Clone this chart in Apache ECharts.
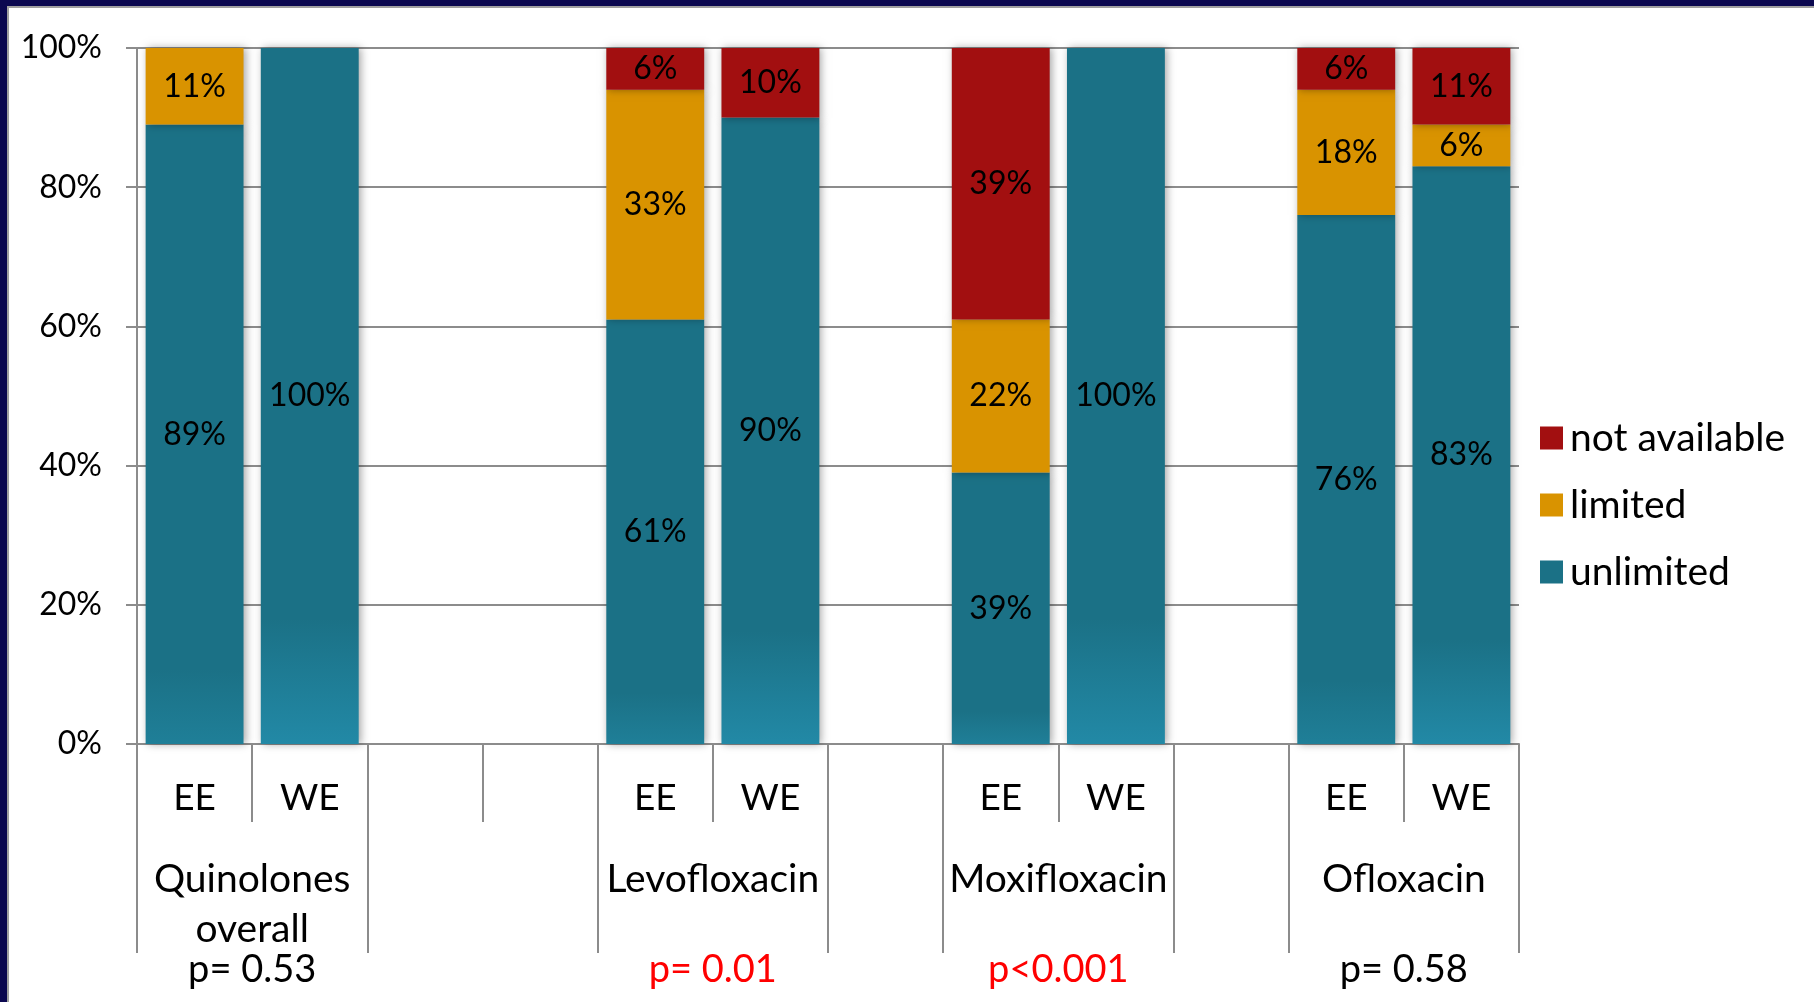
<!DOCTYPE html>
<html>
<head>
<meta charset="utf-8">
<title>Quinolone availability, EE vs WE</title>
<script src="https://cdn.jsdelivr.net/npm/echarts@6/dist/echarts.min.js"></script>
<style>
  html, body { margin: 0; padding: 0; background: #ffffff; }
  #chart { width: 1814px; height: 1002px; }
</style>
</head>
<body>
<div id="chart"></div>
<script>
// Regions per bar slot (blank slots separate the drug groups)
const regions = ['EE', 'WE', '', '', 'EE', 'WE', '', 'EE', 'WE', '', 'EE', 'WE'];

// Availability shares in percent, per slot
const unlimited    = [89, 100, null, null, 61, 90, null, 39, 100, null, 76, 83];
const limited      = [11,   0, null, null, 33,  0, null, 22,   0, null, 18,  6];
const notAvailable = [ 0,   0, null, null,  6, 10, null, 39,   0, null,  6, 11];

// Drug groups on the second axis level (positions in slot units)
const groupNames   = ['Quinolones\noverall', 'Levofloxacin', 'Moxifloxacin', 'Ofloxacin'];
const groupCenters = [1, 5, 8, 11];
const groupBounds  = [0, 2, 4, 6, 7, 9, 10, 12];

// p-values shown under each drug group
const pValues      = ['p= 0.53', 'p= 0.01', 'p<0.001', 'p= 0.58'];
const pSignificant = [false, true, true, false];

const yTicks = [0, 20, 40, 60, 80, 100];

const FONT = 'Lato, "Open Sans", sans-serif';
const GREY = '#8c8c8c';
const TEAL = '#1b7186';
const ORANGE = '#d99300';
const RED = '#a20f10';

const shadow = { shadowBlur: 8, shadowOffsetX: 2, shadowColor: 'rgba(0,0,0,0.35)' };

function tealFill(region) {
  const end = region === 'WE' ? '#2289a6' : '#1f7f98';
  return {
    type: 'linear', x: 0, y: 0, x2: 0, y2: 1,
    colorStops: [
      { offset: 0, color: TEAL },
      { offset: region === 'WE' ? 0.82 : 0.88, color: TEAL },
      { offset: 1, color: end }
    ]
  };
}

const pctLabel = {
  show: true,
  position: 'inside',
  color: '#000000',
  fontFamily: FONT,
  fontSize: 32,
  formatter: p => (p.value > 0 ? p.value + '%' : '')
};

const chart = echarts.init(document.getElementById('chart'), null, { renderer: 'canvas' });

chart.setOption({
  backgroundColor: '#ffffff',
  animation: false,
  graphic: [
    { type: 'rect', shape: { x: 0, y: 0, width: 1814, height: 6 }, style: { fill: '#0b0850' }, silent: true },
    { type: 'rect', shape: { x: 7, y: 6, width: 1807, height: 2 }, style: { fill: '#a0a0a0' }, silent: true },
    { type: 'rect', shape: { x: 0, y: 0, width: 7, height: 1002 }, style: { fill: '#0b0850' }, silent: true },
    { type: 'rect', shape: { x: 7, y: 6, width: 2, height: 996 }, style: { fill: '#a0a0a0' }, silent: true }
  ],
  legend: {
    orient: 'vertical',
    left: 1535,
    top: 411,
    itemWidth: 23,
    itemHeight: 23,
    itemGap: 23,
    icon: 'rect',
    data: ['not available', 'limited', 'unlimited'],
    textStyle: { fontFamily: FONT, fontSize: 39, color: '#000000', lineHeight: 44, padding: [0, 0, 0, 2] }
  },
  grid: { left: 137, right: 295, top: 48, bottom: 258 },
  xAxis: [
    {
      type: 'category',
      data: regions,
      boundaryGap: true,
      axisLine: { show: true, lineStyle: { color: GREY, width: 2 } },
      axisTick: { show: true, interval: 0, length: 78, alignWithLabel: false, lineStyle: { color: GREY, width: 2 } },
      axisLabel: { interval: 0, margin: 34, fontFamily: FONT, fontSize: 37, lineHeight: 40, color: '#000000' },
      splitLine: { show: false }
    },
    {
      type: 'value',
      min: 0,
      max: 12,
      position: 'bottom',
      axisLine: { show: false },
      splitLine: { show: false },
      axisTick: { show: true, customValues: groupBounds, length: 209, lineStyle: { color: GREY, width: 2 } },
      axisLabel: {
        customValues: groupCenters,
        margin: 110,
        fontFamily: FONT,
        fontSize: 39,
        lineHeight: 50,
        color: '#000000',
        formatter: v => groupNames[groupCenters.indexOf(v)]
      }
    },
    {
      type: 'value',
      min: 0,
      max: 12,
      position: 'bottom',
      axisLine: { show: false },
      splitLine: { show: false },
      axisTick: { show: false },
      axisLabel: {
        customValues: groupCenters,
        margin: 204,
        formatter: v => {
          const i = groupCenters.indexOf(v);
          return '{' + (pSignificant[i] ? 'sig' : 'ns') + '|' + pValues[i] + '}';
        },
        rich: {
          sig: { color: '#ff0000', fontFamily: FONT, fontSize: 38, lineHeight: 44 },
          ns: { color: '#000000', fontFamily: FONT, fontSize: 38, lineHeight: 44 }
        }
      }
    }
  ],
  yAxis: {
    type: 'value',
    min: yTicks[0],
    max: yTicks[yTicks.length - 1],
    interval: 20,
    axisLine: { show: true, lineStyle: { color: GREY, width: 2 } },
    axisTick: { show: true, length: 11, lineStyle: { color: GREY, width: 2 } },
    axisLabel: { margin: 35, fontFamily: FONT, fontSize: 32, color: '#000000', formatter: '{value}%' },
    splitLine: { show: true, lineStyle: { color: GREY, width: 2 } }
  },
  series: [
    {
      name: 'unlimited',
      type: 'bar',
      stack: 'share',
      xAxisIndex: 0,
      barCategoryGap: '15%',
      itemStyle: Object.assign({ color: TEAL }, shadow),
      label: pctLabel,
      data: unlimited.map((v, i) => ({ value: v, itemStyle: { color: tealFill(regions[i]) } }))
    },
    {
      name: 'limited',
      type: 'bar',
      stack: 'share',
      xAxisIndex: 0,
      barCategoryGap: '15%',
      itemStyle: Object.assign({ color: ORANGE }, shadow),
      label: pctLabel,
      data: limited
    },
    {
      name: 'not available',
      type: 'bar',
      stack: 'share',
      xAxisIndex: 0,
      barCategoryGap: '15%',
      itemStyle: Object.assign({ color: RED }, shadow),
      label: pctLabel,
      data: notAvailable
    }
  ]
});
</script>
</body>
</html>
